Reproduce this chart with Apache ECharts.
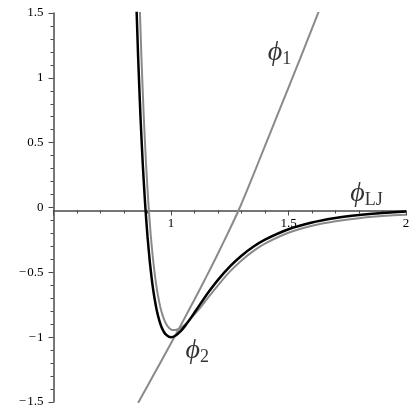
<!DOCTYPE html>
<html><head><meta charset="utf-8">
<script src="https://cdn.jsdelivr.net/npm/echarts/dist/echarts.min.js"></script>
<style>html,body{margin:0;padding:0;background:#fff}#c{width:416px;height:416px}</style>
</head><body><div id="c"></div>
<script>
// Lennard-Jones curve (black)
const ljX = [0.85, 0.86, 0.87, 0.88, 0.89, 0.9, 0.91, 0.92, 0.93, 0.94, 0.95, 0.96, 0.97, 0.98, 0.99, 1.0, 1.02, 1.04, 1.06, 1.08, 1.1, 1.13, 1.16, 1.2, 1.25, 1.3, 1.35, 1.4, 1.5, 1.6, 1.7, 1.8, 1.9, 2.0];
const ljY = [1.727, 1.166, 0.706, 0.330, 0.025, -0.223, -0.421, -0.579, -0.702, -0.798, -0.870, -0.923, -0.960, -0.983, -0.996, -1.0, -0.987, -0.956, -0.913, -0.863, -0.810, -0.730, -0.652, -0.558, -0.456, -0.372, -0.303, -0.248, -0.168, -0.116, -0.081, -0.058, -0.042, -0.031];
// gray curve close to the LJ curve
const grayX = [0.864, 0.874, 0.884, 0.894, 0.904, 0.914, 0.924, 0.934, 0.944, 0.954, 0.964, 0.974, 0.984, 0.994, 1.004, 1.016, 1.03, 1.045, 1.06, 1.08, 1.1, 1.13, 1.16, 1.2, 1.25, 1.3, 1.35, 1.4, 1.5, 1.6, 1.7, 1.8, 1.9, 2.0];
const grayY = [1.727, 1.166, 0.706, 0.330, 0.025, -0.218, -0.408, -0.558, -0.674, -0.763, -0.830, -0.878, -0.912, -0.933, -0.944, -0.945, -0.939, -0.925, -0.903, -0.866, -0.825, -0.760, -0.690, -0.600, -0.495, -0.408, -0.336, -0.278, -0.195, -0.141, -0.106, -0.082, -0.066, -0.055];
// rising gray curve
const phi1X = [0.86, 0.9, 0.95, 1.0, 1.05, 1.1, 1.15, 1.2, 1.25, 1.293, 1.35, 1.4, 1.45, 1.5, 1.55, 1.6, 1.64];
const phi1Y = [-1.507, -1.377, -1.212, -1.047, -0.88, -0.71, -0.535, -0.355, -0.168, 0.0, 0.25, 0.475, 0.70, 0.925, 1.15, 1.38, 1.565];
// curve labels (subscripts) and anchor positions in data units
const labelSubs = ['1', 'LJ', '2'];
const labelX = [1.462, 1.832, 1.112];
const labelY = [1.19, 0.1, -1.11];

const zip = (xs, ys) => xs.map((x, i) => [x, ys[i]]);
const SERIF = "'Liberation Serif', 'Times New Roman', serif";
const AX = '#4a4a4a';

const chart = echarts.init(document.getElementById('c'), null, {renderer: 'canvas'});
const option = {
  animation: false,
  backgroundColor: '#fff',
  grid: {left: 53.5, right: 10, top: 13, bottom: 14},
  xAxis: {
    type: 'value', min: 0.5, max: 2, interval: 0.5, position: 'bottom',
    axisLine: {onZero: false, lineStyle: {color: AX, width: 1.5}},
    axisTick: {show: true, length: 5, lineStyle: {color: AX, width: 1}},
    minorTick: {show: true, splitNumber: 5, length: 3, lineStyle: {color: AX, width: 1}},
    splitLine: {show: false},
    axisLabel: {
      margin: 7, color: '#000', fontFamily: SERIF, fontSize: 13,
      formatter: v => (Math.abs(v - 0.5) < 1e-9 ? '' : String(v))
    }
  },
  yAxis: {
    type: 'value', min: -1.5, max: 1.5, interval: 0.5,
    axisLine: {show: true, onZero: false, lineStyle: {color: AX, width: 1.5}},
    axisTick: {show: true, length: 5, lineStyle: {color: AX, width: 1}},
    minorTick: {show: true, splitNumber: 5, length: 3, lineStyle: {color: AX, width: 1}},
    splitLine: {show: false},
    axisLabel: {
      margin: 10, color: '#000', fontFamily: SERIF, fontSize: 13,
      formatter: v => (v < 0 ? '\u2212\u200a' + String(Math.abs(v)) : String(v))
    }
  },
  series: [
    {type: 'line', data: zip(phi1X, phi1Y), showSymbol: false, smooth: 0.2, clip: true,
     lineStyle: {color: '#8a8a8a', width: 2}, z: 2},
    {type: 'line', data: zip(grayX, grayY), showSymbol: false, smooth: 0.2, clip: true,
     lineStyle: {color: '#8a8a8a', width: 2}, z: 3},
    {type: 'line', data: zip(ljX, ljY), showSymbol: false, smooth: 0.2, clip: true,
     lineStyle: {color: '#000', width: 2.5}, z: 4},
    {type: 'scatter', symbolSize: 0, z: 5,
     data: labelX.map((x, i) => [x, labelY[i]]),
     label: {
       show: true, position: 'inside',
       formatter: p => '{phi|\u03D5}{sub|' + labelSubs[p.dataIndex] + '}',
       rich: {
         phi: {fontFamily: SERIF, fontStyle: 'italic', fontSize: 28, lineHeight: 30, verticalAlign: 'top', color: '#000'},
         sub: {fontFamily: SERIF, fontSize: 18, lineHeight: 22, verticalAlign: 'bottom', color: '#000'}
       }
     }}
  ]
};
chart.setOption(option);
// put the x axis (line, ticks, labels) on y = 0
const yZero = chart.convertToPixel({gridIndex: 0}, [0.5, 0])[1];
const yBottom = chart.convertToPixel({gridIndex: 0}, [0.5, -1.5])[1];
chart.setOption({xAxis: {offset: yZero - yBottom}});
</script>
</body></html>
